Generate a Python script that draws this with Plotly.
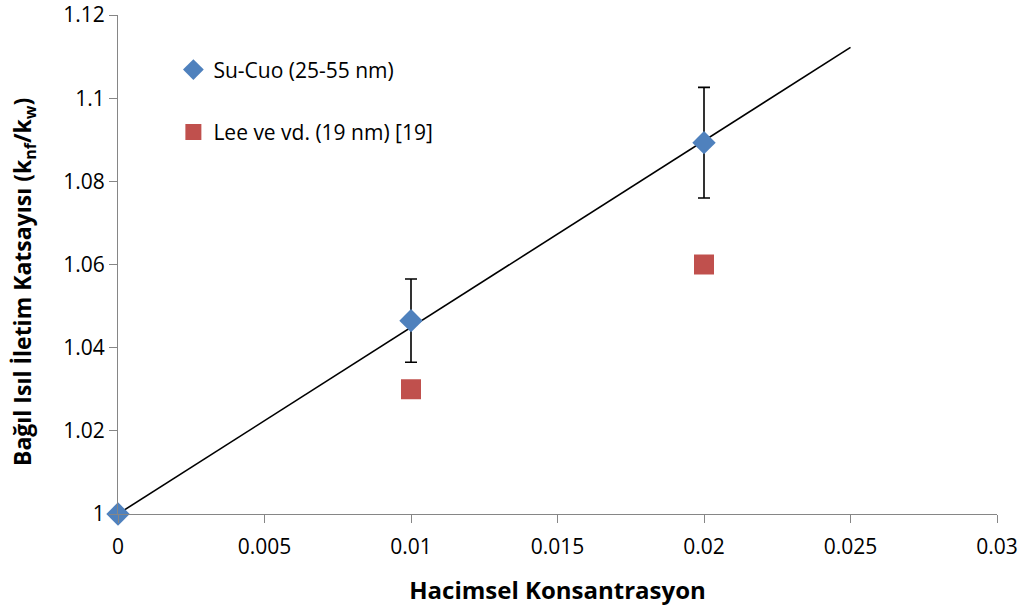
import plotly.graph_objects as go

# Measured thermal conductivity ratio (Su-CuO nanofluid)
conc_sucuo = [0.0, 0.01, 0.02]
ratio_sucuo = [1.0, 1.0465, 1.0893]
err_sucuo = [0.0, 0.010, 0.0133]

# Literature values (Lee et al.)
conc_lee = [0.01, 0.02]
ratio_lee = [1.03, 1.06]

# Linear fit line
fit_x = [0.0, 0.025]
fit_y = [1.0, 1.1122]

x_ticks = [0, 0.005, 0.01, 0.015, 0.02, 0.025, 0.03]
x_tick_text = ["0", "0.005", "0.01", "0.015", "0.02", "0.025", "0.03"]
y_ticks = [1.0, 1.02, 1.04, 1.06, 1.08, 1.10, 1.12]
y_tick_text = ["1", "1.02", "1.04", "1.06", "1.08", "1.1", "1.12"]

FONT = "Open Sans"
AXIS_GREY = "#868686"

fig = go.Figure()

fig.add_trace(go.Scatter(
    x=fit_x, y=fit_y, mode="lines",
    line=dict(color="black", width=1.6),
    showlegend=False, hoverinfo="skip",
))

fig.add_trace(go.Scatter(
    x=conc_sucuo, y=ratio_sucuo, mode="markers",
    name="Su-Cuo (25-55 nm)", legendgroup="a",
    marker=dict(symbol="diamond", size=18, color="#4F81BD"),
    error_y=dict(type="data", array=err_sucuo, visible=True,
                 color="black", thickness=1.6, width=6),
))

fig.add_trace(go.Scatter(
    x=conc_lee, y=ratio_lee, mode="markers",
    name="Lee ve vd. (19 nm) [19]", legendgroup="b",
    marker=dict(symbol="square", size=20, color="#C0504D"),
))

fig.update_layout(
    width=1022, height=611,
    margin=dict(l=118, r=25, t=15, b=97, autoexpand=False),
    paper_bgcolor="white", plot_bgcolor="white",
    font=dict(family=FONT, size=21, color="black"),
    showlegend=True,
    legend=dict(
        x=0.063, y=0.931, xanchor="left", yanchor="top",
        bgcolor="rgba(0,0,0,0)", tracegroupgap=32,
        font=dict(family=FONT, size=21),
        itemwidth=30,
    ),
    xaxis=dict(
        range=[0, 0.03], tickvals=x_ticks, ticktext=x_tick_text,
        showgrid=False, zeroline=False, automargin=False,
        showline=True, linecolor=AXIS_GREY, linewidth=1,
        ticks="outside", ticklen=8, tickcolor=AXIS_GREY,
        ticklabelstandoff=6,
        tickfont=dict(family=FONT, size=21),
        title=dict(text="<b>Hacimsel Konsantrasyon</b>",
                   font=dict(family=FONT, size=24), standoff=22),
    ),
    yaxis=dict(
        range=[1.0, 1.12], tickvals=y_ticks, ticktext=y_tick_text,
        showgrid=False, zeroline=False, automargin=False,
        showline=True, linecolor=AXIS_GREY, linewidth=1,
        ticks="outside", ticklen=8, tickcolor=AXIS_GREY,
        tickfont=dict(family=FONT, size=21),
    ),
    annotations=[dict(
        text="<b>Bağıl Isıl İletim Katsayısı (k<sub>nf</sub>/k<sub>w</sub>)</b>",
        font=dict(family=FONT, size=23, color="black"),
        textangle=-90, showarrow=False,
        xref="paper", yref="paper",
        x=(23 - 118) / 879, y=(514 - 282) / 499,
        xanchor="center", yanchor="middle",
    )],
)

fig.update_traces(cliponaxis=False)

fig.write_html("out.html")
